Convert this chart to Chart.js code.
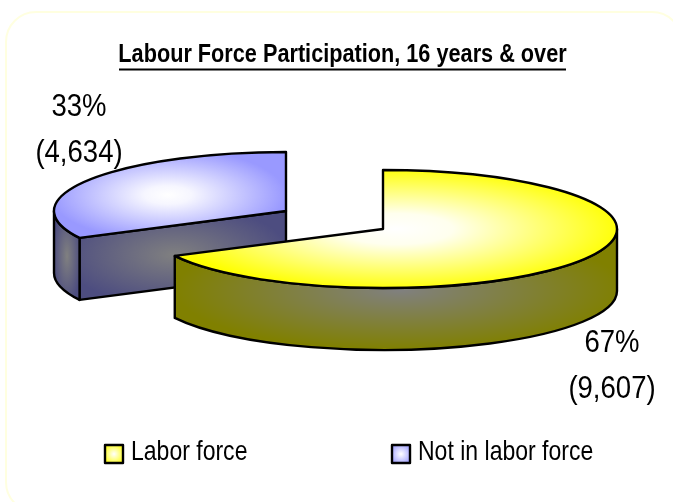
<!DOCTYPE html>
<html>
<head>
<meta charset="utf-8">
<style>
    html, body { margin: 0; padding: 0; background: #fff; }
    canvas { display: block; }
</style>
<script src="https://cdn.jsdelivr.net/npm/chart.js@4"></script>
</head>
<body>
<canvas id="labourChart" width="673" height="502"></canvas>
<script>
const chartTitle = 'Labour Force Participation, 16 years & over';
const categories = ['Labor force', 'Not in labor force'];
const people = [9607, 4634];

const edgeColors = ['#ffff00', '#9999ff'];
const wallColors = ['#808000', '#4d4d80'];
const fontFamily = '"Liberation Sans", Arial, sans-serif';

// where each exploded slice sits on the page
const sliceCenters = [{ x: 383, y: 229 }, { x: 286, y: 211 }];
const sliceRadiusX = [234, 232];
const labelCenters = [{ x: 612, y: 343 }, { x: 79, y: 107 }];
const legendSpots = [{ box: 105, text: 131 }, { box: 392, text: 418 }];
const radiusY = 59;
const depth = 62;
const lineGap = 46;

// fill the current path with a soft elliptical gradient
function fillSoft(ctx, cx, cy, rx, ry, stops) {
    ctx.save();
    ctx.translate(cx, cy);
    ctx.scale(1, ry / rx);
    const g = ctx.createRadialGradient(0, 0, 0, 0, 0, rx);
    stops.forEach(s => g.addColorStop(s[0], s[1]));
    ctx.fillStyle = g;
    ctx.fill();
    ctx.restore();
}

function strokeBlack(ctx) {
    ctx.strokeStyle = '#000';
    ctx.lineWidth = 2.4;
    ctx.lineJoin = 'round';
    ctx.stroke();
}

// the reference font is a condensed Arial, so squeeze the text sideways
function narrowText(ctx, text, x, y, squeeze) {
    ctx.save();
    ctx.translate(x, y);
    ctx.scale(squeeze, 1);
    ctx.fillText(text, 0, 0);
    ctx.restore();
}

const pie3d = {
    id: 'pie3d',
    afterLayout(chart) {
        // squeeze the library's title around its own centre
        const tb = chart.titleBlock;
        if (tb.squeezed) return;
        tb.squeezed = true;
        const drawTitle = tb.draw;
        tb.draw = function () {
            const ctx = chart.ctx;
            ctx.save();
            ctx.translate(342.5, 0);
            ctx.scale(0.834, 1);
            ctx.translate(-(tb.left + tb.right) / 2, 0);
            drawTitle.call(tb);
            ctx.restore();
        };
    },
    beforeDraw(chart) {
        const ctx = chart.ctx;
        ctx.save();
        ctx.beginPath();
        ctx.roundRect(6, 12, 676, 500, 30);
        ctx.strokeStyle = '#ffffe0';
        ctx.lineWidth = 2;
        ctx.stroke();
        ctx.restore();
    },
    beforeDatasetDraw(chart) {
        const ctx = chart.ctx;
        const arcs = chart.getDatasetMeta(0).data;
        // back slice first, the yellow one overlaps it
        drawSlice(ctx, arcs[1], 1);
        drawSlice(ctx, arcs[0], 0);
        return false;
    },
    afterDraw(chart) {
        const ctx = chart.ctx;
        const total = people.reduce((a, b) => a + b, 0);
        ctx.save();
        ctx.fillStyle = '#000';
        ctx.fillRect(119, 68.5, 447, 2);

        ctx.font = '32px ' + fontFamily;
        ctx.textAlign = 'center';
        ctx.textBaseline = 'middle';
        people.forEach((v, i) => {
            const p = labelCenters[i];
            narrowText(ctx, Math.round(v / total * 100) + '%', p.x, p.y, 0.86);
            narrowText(ctx, '(' + v.toLocaleString('en-US') + ')', p.x, p.y + lineGap, 0.86);
        });

        // legend
        ctx.textAlign = 'left';
        ctx.font = '28px ' + fontFamily;
        categories.forEach((name, i) => {
            const s = legendSpots[i];
            ctx.beginPath();
            ctx.rect(s.box, 445, 18, 18);
            fillSoft(ctx, s.box + 9, 454, 12, 12, [[0, '#fff'], [1, edgeColors[i]]]);
            strokeBlack(ctx);
            ctx.fillStyle = '#000';
            narrowText(ctx, name, s.text, 452, 0.822);
        });
        ctx.restore();
    }
};

function drawSlice(ctx, arc, i) {
    const c = sliceCenters[i];
    const rx = sliceRadiusX[i];
    const a0 = arc.startAngle;
    const a1 = arc.endAngle;
    const gray = '#808080';
    const wall = wallColors[i];

    ctx.save();
    if (i === 0) {
        // outer wall, front half only
        const end = Math.min(a1, Math.PI);
        ctx.beginPath();
        ctx.ellipse(c.x, c.y, rx, radiusY, 0, 0, end);
        ctx.ellipse(c.x, c.y + depth, rx, radiusY, 0, end, 0, true);
        ctx.closePath();
        fillSoft(ctx, 400, 290, 225, 60, [[0, gray], [1, wall]]);
        strokeBlack(ctx);
    } else {
        const px = c.x + rx * Math.cos(a0);
        const py = c.y + radiusY * Math.sin(a0);
        // cut face of the slice, facing the viewer
        ctx.beginPath();
        ctx.moveTo(c.x, c.y);
        ctx.lineTo(px, py);
        ctx.lineTo(px, py + depth);
        ctx.lineTo(c.x, c.y + depth);
        ctx.closePath();
        fillSoft(ctx, 175, 255, 115, 50, [[0, gray], [1, wall]]);
        strokeBlack(ctx);
        // short bit of outer wall on the left
        ctx.beginPath();
        ctx.ellipse(c.x, c.y, rx, radiusY, 0, a0, Math.PI);
        ctx.ellipse(c.x, c.y + depth, rx, radiusY, 0, Math.PI, a0, true);
        ctx.closePath();
        fillSoft(ctx, 67, 256, 14, 48, [[0, gray], [1, wall]]);
        strokeBlack(ctx);
    }

    // top face
    ctx.beginPath();
    ctx.moveTo(c.x, c.y);
    ctx.ellipse(c.x, c.y, rx, radiusY, 0, a0, a1);
    ctx.closePath();
    if (i === 0) {
        fillSoft(ctx, 396, 229, 228, 62, [[0, '#ffffff'], [0.25, '#ffffee'], [1, edgeColors[0]]]);
    } else {
        fillSoft(ctx, 168, 195, 118, 46, [[0, '#ffffff'], [0.2, '#f6f6ff'], [1, edgeColors[1]]]);
    }
    strokeBlack(ctx);
    ctx.restore();
}

new Chart(document.getElementById('labourChart'), {
    type: 'pie',
    data: {
        labels: categories,
        datasets: [{
            data: people,
            backgroundColor: edgeColors,
            borderWidth: 0
        }]
    },
    options: {
        responsive: false,
        animation: false,
        plugins: {
            title: {
                display: true,
                text: chartTitle,
                color: '#000',
                padding: { top: 39, bottom: 6 },
                font: { family: fontFamily, size: 26, weight: 'bold', lineHeight: 1.2 }
            },
            legend: { display: false },
            tooltip: { enabled: false }
        }
    },
    plugins: [pie3d]
});
</script>
</body>
</html>
